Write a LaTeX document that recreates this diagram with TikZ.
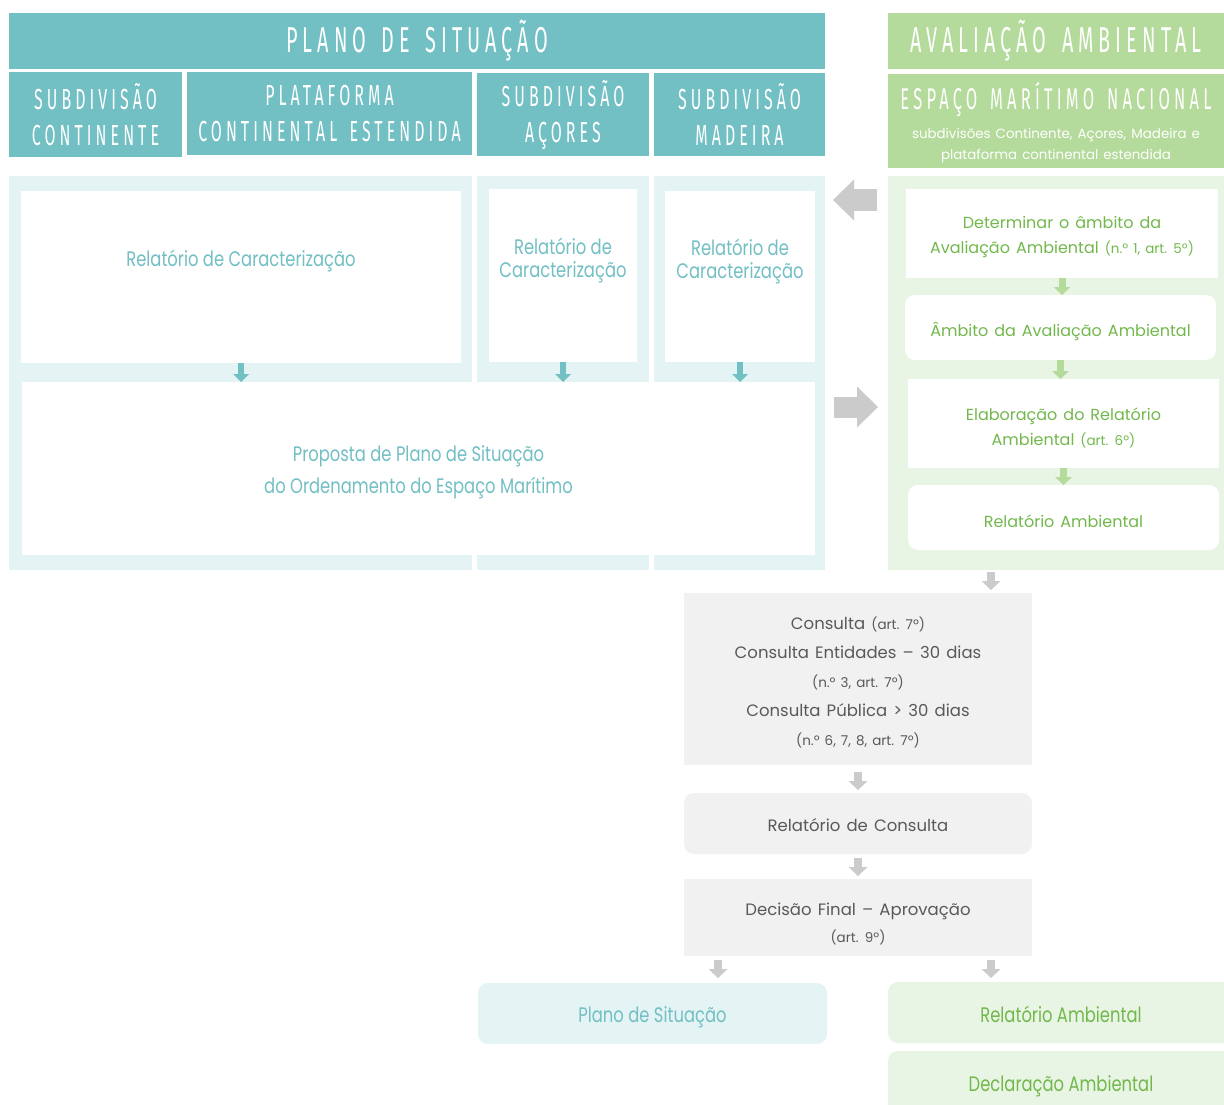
\documentclass[tikz,border=0pt]{standalone}
\usepackage{fontspec}
\setmainfont[WordSpace=1.4]{Poppins}
\newfontfamily\hdfont[FakeStretch=0.55,LetterSpace=14,WordSpace=1.5]{Fira Sans}
\newfontfamily\tealfont[FakeStretch=0.78]{Poppins}
\usetikzlibrary{arrows.meta}
\definecolor{tealhd}{HTML}{72BFC4}
\definecolor{tealbg}{HTML}{E4F3F4}
\definecolor{greenhd}{HTML}{B4DA9C}
\definecolor{greenbg}{HTML}{E9F5E4}
\definecolor{greentx}{HTML}{72B84C}
\definecolor{graybg}{HTML}{F1F1F1}
\definecolor{graytx}{HTML}{595959}
\definecolor{grayar}{HTML}{CBCBCB}
\newcommand{\smtxt}[1]{{\fontsize{13.5}{26}\selectfont #1}}

\tikzset{
  box/.style={rectangle,inner sep=0pt,outer sep=0pt,align=center},
  thead/.style={box,fill=tealhd,text=white,font=\hdfont\fontsize{29}{36}\selectfont},
  ghead/.style={box,fill=greenhd,text=white,font=\hdfont\fontsize{36}{36}\selectfont},
  tpanel/.style={box,fill=tealbg},
  gpanel/.style={box,fill=greenbg},
  tbox/.style={box,fill=white},
  ttext/.style={box,text=tealhd,font=\tealfont\fontsize{21}{23}\selectfont},
  gbox/.style={box,fill=white,text=greentx,font=\fontsize{16}{25}\selectfont},
  cbox/.style={box,fill=graybg,text=graytx,font=\fontsize{16.5}{27}\selectfont},
  softbox/.style={rounded corners=10pt},
  tarrow/.style={draw=tealhd,line width=6pt,-{Triangle[length=8pt,width=16pt,line width=0pt]}},
  garrow/.style={draw=greenhd,line width=7pt,-{Triangle[length=8pt,width=17pt,line width=0pt]}},
  carrow/.style={draw=grayar,line width=8pt,-{Triangle[length=9pt,width=19pt,line width=0pt]}},
  bigarrow/.style={draw=grayar,line width=21pt,-{Triangle[length=21pt,width=41pt,line width=0pt]}}
}

\begin{document}
\begin{tikzpicture}[x=1pt,y=-1pt]
\useasboundingbox (0,0) rectangle (1224,1105);
% plano de situacao
\node[thead,minimum width=816,minimum height=56,font=\hdfont\fontsize{36}{36}\selectfont] (hplano) at (417,41) {PLANO DE SITUAÇÃO};
\node[thead,minimum width=173,minimum height=85] (hcont) at (95.5,115) {SUBDIVISÃO\\CONTINENTE};
\node[thead,minimum width=285,minimum height=83] (hplat) at (329.5,113.5) {PLATAFORMA\\CONTINENTAL ESTENDIDA};
\node[thead,minimum width=172,minimum height=83] (haco) at (563,114.5) {SUBDIVISÃO\\AÇORES};
\node[thead,minimum width=171,minimum height=83] (hmad) at (739.5,114.5) {SUBDIVISÃO\\MADEIRA};
\node[tpanel,minimum width=463,minimum height=394] (pcont) at (240.5,373) {};
\node[tpanel,minimum width=172,minimum height=394] (paco) at (563,373) {};
\node[tpanel,minimum width=171,minimum height=394] (pmad) at (739.5,373) {};
\node[tbox,minimum width=440,minimum height=172] (rcont) at (241,277) {};
\node[tbox,minimum width=148,minimum height=173] (raco) at (563,275.5) {};
\node[tbox,minimum width=150,minimum height=171] (rmad) at (740,276.5) {};
\node[ttext] (rcont-t) at (241,261) {Relatório de Caracterização};
\node[ttext] (raco-t) at (563,260.5) {Relatório de\\Caracterização};
\node[ttext] (rmad-t) at (740,261) {Relatório de\\Caracterização};
\node[tbox,minimum width=793,minimum height=173,text=tealhd,text height=56,font=\tealfont\fontsize{21}{32}\selectfont] (prop) at (418.5,468.5)
 {Proposta de Plano de Situação\\do Ordenamento do Espaço Marítimo};
\draw[tarrow] (rcont.south) -- (rcont.south |- prop.north);
\draw[tarrow] (raco.south) -- (raco.south |- prop.north);
\draw[tarrow] (rmad.south) -- (rmad.south |- prop.north);
% avaliacao ambiental
\node[ghead,minimum width=336,minimum height=56] (haval) at (1056,41) {AVALIAÇÃO AMBIENTAL};
\node[ghead,minimum width=336,minimum height=94,text height=81,font=\fontsize{13.4}{21}\selectfont] (hesp) at (1056,121)
 {{\hdfont\fontsize{30}{30}\selectfont ESPAÇO MARÍTIMO NACIONAL}\\[8pt]subdivisões Continente, Açores, Madeira e\\plataforma continental estendida};
\node[gpanel,minimum width=336,minimum height=394] (paval) at (1056,373) {};
\node[gbox,minimum width=312,minimum height=89,text height=44.5] (det) at (1062,233.5)
 {Determinar o âmbito da\\Avaliação Ambiental \smtxt{(n.º 1, art. 5º)}};
\node[gbox,softbox,minimum width=311,minimum height=65,text height=22] (amb) at (1060.5,327.5) {Âmbito da Avaliação Ambiental};
\node[gbox,minimum width=311,minimum height=89,text height=46.5] (elab) at (1063.5,423.5)
 {Elaboração do Relatório\\Ambiental \smtxt{(art. 6º)}};
\node[gbox,softbox,minimum width=311,minimum height=65,text height=20.5] (ramb) at (1063.5,517.5) {Relatório Ambiental};
\draw[garrow] (det.south) -- (det.south |- amb.north);
\draw[garrow] (amb.south) -- (amb.south |- elab.north);
\draw[garrow] (elab.south) -- (elab.south |- ramb.north);
% ligacoes entre as duas colunas
\draw[bigarrow,shorten <=11pt,shorten >=8pt] (paval.west |- 0,200) -- (pmad.east |- 0,200);
\draw[bigarrow,shorten <=9pt,shorten >=10pt] (pmad.east |- 0,407) -- (paval.west |- 0,407);
% consulta e decisao
\node[cbox,minimum width=348,minimum height=172,text height=136,font=\fontsize{16.5}{29}\selectfont] (cons) at (858,679)
 {Consulta \smtxt{(art. 7º)}\\Consulta Entidades – 30 dias\\\smtxt{(n.º 3, art. 7º)}\\Consulta Pública > 30 dias\\\smtxt{(n.º 6, 7, 8, art. 7º)}};
\node[cbox,softbox,minimum width=348,minimum height=61,text height=16.5] (rcons) at (858,823.5) {Relatório de Consulta};
\node[cbox,minimum width=348,minimum height=77,text height=53] (dec) at (858,917.5) {Decisão Final – Aprovação\\\smtxt{(art. 9º)}};
\coordinate (ca) at (991,572);
\draw[carrow,shorten >=3pt] (ca) -- (ca |- cons.north);
\draw[carrow,shorten <=7pt,shorten >=3pt] (cons.south) -- (rcons.north);
\draw[carrow,shorten <=4pt,shorten >=3pt] (rcons.south) -- (dec.south |- dec.north);
% resultados
\node[ttext,fill=tealbg,softbox,minimum width=349,minimum height=61,text height=24] (plano) at (652.5,1013.5) {Plano de Situação};
\node[ttext,fill=greenbg,softbox,text=greentx,minimum width=346,minimum height=61,text height=20] (fra) at (1061,1012.5) {Relatório Ambiental};
\node[ttext,fill=greenbg,softbox,text=greentx,minimum width=346,minimum height=64,text height=22] (decl) at (1061,1083) {Declaração Ambiental};
\coordinate (cb) at (718,960);
\coordinate (cc) at (991,960);
\draw[carrow,shorten >=5pt] (cb) -- (cb |- plano.north);
\draw[carrow,shorten >=4pt] (cc) -- (cc |- fra.north);
\end{tikzpicture}
\end{document}
